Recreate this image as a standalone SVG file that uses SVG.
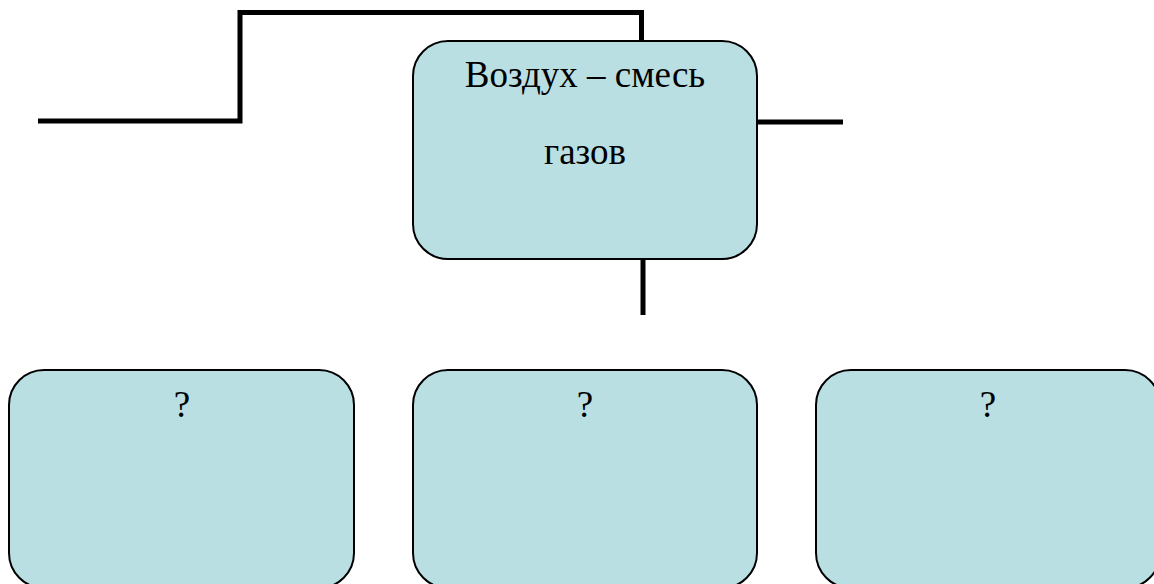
<svg xmlns="http://www.w3.org/2000/svg" width="1154" height="584" viewBox="0 0 1154 584">
<style>
.box{fill:#B9DFE3;stroke:#000;stroke-width:2}
.lbl{font-family:"Liberation Serif","Times New Roman",serif;font-size:37px;fill:#000;text-anchor:middle}
.conn{fill:none;stroke:#000;stroke-width:5}
</style>
<rect width="1154" height="584" fill="#fff"/>
<g id="connectors">
<polyline class="conn" points="38,121 240,121 240,12.5 641.5,12.5 641.5,41"/>
<line class="conn" x1="757" y1="122" x2="843" y2="122"/>
<line class="conn" x1="643" y1="259" x2="643" y2="315"/>
</g>
<g id="main">
<rect class="box" x="413" y="41" width="344" height="218" rx="35" ry="35"/>
<text class="lbl" x="585" y="87">Воздух – смесь</text>
<text class="lbl" x="585" y="164">газов</text>
</g>
<g id="q1">
<rect class="box" x="9" y="370" width="345" height="218" rx="35" ry="35"/>
<text class="lbl" x="182" y="417">?</text>
</g>
<g id="q2">
<rect class="box" x="413" y="370" width="344" height="218" rx="35" ry="35"/>
<text class="lbl" x="585" y="417">?</text>
</g>
<g id="q3">
<rect class="box" x="816" y="370" width="344" height="218" rx="35" ry="35"/>
<text class="lbl" x="988" y="417">?</text>
</g>
</svg>
